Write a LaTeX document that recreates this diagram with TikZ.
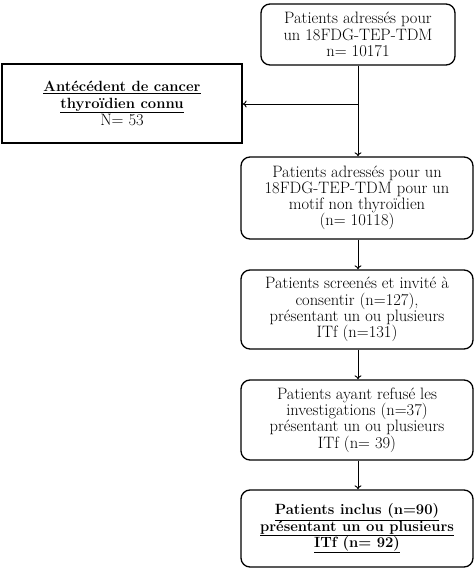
\documentclass[tikz,border=0pt]{standalone}
\usetikzlibrary{arrows.meta}
\newcommand{\bu}[1]{{\fontsize{14.8}{16.2}\selectfont\textbf{\underline{#1}}}}
\begin{document}
\begin{tikzpicture}[x=1pt,y=-1pt,
  rbox/.style={draw,line width=1.3pt,rounded corners=9pt,align=center,inner sep=0pt,font=\fontsize{16.5}{16.2}\selectfont},
  sbox/.style={draw,line width=1.3pt,align=center,inner sep=0pt,font=\fontsize{16.5}{16.2}\selectfont},
  arr/.style={line width=0.9pt,-{To[length=4pt,width=7pt]}}]
\useasboundingbox (0,0) rectangle (475,569);
\node[rbox,minimum width=194pt,minimum height=61pt] (top) at (358,34.5)
  {Patients adressés pour\\un 18FDG-TEP-TDM\\n= 10171};
\node[sbox,minimum width=240pt,minimum height=79pt] (ant) at (122,103.5)
  {\bu{Antécédent de cancer}\\\bu{thyroïdien connu}\\N= 53};
\node[rbox,minimum width=232pt,minimum height=82pt] (b2) at (357,198)
  {Patients adressés pour un\\18FDG-TEP-TDM pour un\\motif non thyroïdien\\(n= 10118)};
\node[rbox,minimum width=232pt,minimum height=79pt] (b3) at (357,309.5)
  {Patients screenés et invité à\\consentir (n=127),\\présentant un ou plusieurs\\ITf (n=131)};
\node[rbox,minimum width=232pt,minimum height=80pt] (b4) at (357,420)
  {Patients ayant refusé les\\investigations (n=37)\\présentant un ou plusieurs\\ITf (n= 39)};
\node[rbox,minimum width=232pt,minimum height=77pt] (b5) at (357,528.5)
  {\bu{Patients inclus (n=90)}\\\bu{présentant un ou plusieurs}\\\bu{ITf (n= 92)}};
\coordinate (br) at (358,104);
\draw[arr] (top.south -| br) -- (b2.north -| br);
\draw[arr] (br) -- (ant.east |- br);
\draw[arr] (b2.south -| br) -- (b3.north -| br);
\draw[arr] (b3.south -| br) -- (b4.north -| br);
\draw[arr] (b4.south -| br) -- (b5.north -| br);
\end{tikzpicture}
\end{document}
